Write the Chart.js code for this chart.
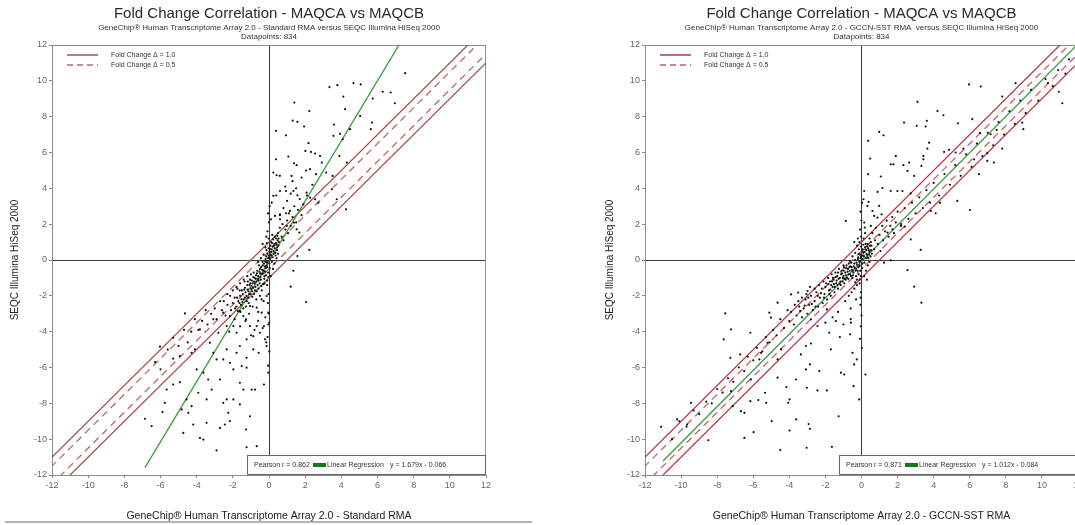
<!DOCTYPE html>
<html>
<head>
<meta charset="utf-8">
<title>Fold Change Correlation - MAQCA vs MAQCB</title>
<script src="https://cdn.jsdelivr.net/npm/chart.js@4.4.1/dist/chart.umd.min.js"></script>
<style>
html, body { margin: 0; padding: 0; background: #fff; overflow: hidden; width: 1075px; height: 525px; }
.panel { position: absolute; top: 0; }
</style>
</head>
<body>
<div class="panel" style="left:0"><canvas id="standardChart" width="540" height="525"></canvas></div>
<div class="panel" style="left:540px"><canvas id="gccnChart" width="545" height="525"></canvas></div>
<script>
// axis range shared by both panels
var axisMin = -12;
var axisMax = 12;
var tickStep = 2;

// fold change guide lines (log2 difference from the diagonal)
var foldSolid = 1.0;
var foldDashed = 0.5;

// Standard RMA vs SEQC: [array log2 FC, seq log2 FC]
var standardPoints = [
    [7.53,10.43],[3.34,9.65],[3.78,9.76],[4.67,9.87],[5.07,9.80],[6.29,9.39],[6.73,9.35],[1.40,8.79],[4.11,9.12],[5.74,9.01],
    [6.96,8.75],[2.23,8.31],[4.21,8.42],[5.04,8.04],[1.31,7.78],[1.57,7.71],[1.94,7.45],[5.70,7.67],[0.39,7.21],[0.94,6.96],
    [3.60,7.56],[3.93,7.04],[3.56,6.93],[4.08,6.74],[4.48,7.30],[5.63,7.30],[2.18,6.52],[2.01,6.09],[2.32,6.03],[2.55,5.94],
    [2.82,5.81],[1.07,5.77],[0.39,5.62],[1.38,5.40],[1.53,5.29],[1.25,4.69],[2.05,4.99],[2.27,5.07],[2.60,4.79],[2.92,5.44],
    [3.89,5.81],[4.30,5.44],[3.16,4.88],[3.52,4.69],[0.24,4.88],[0.42,4.73],[0.61,3.85],[0.94,3.85],[1.35,3.85],[1.57,3.61],
    [2.08,3.76],[2.27,3.48],[2.55,3.39],[2.73,3.20],[1.16,2.74],[0.94,2.61],[0.33,2.46],[0.61,2.27],[0.98,1.90],[1.38,2.09],
    [1.53,1.71],[1.68,1.53],[4.26,2.83],[3.47,3.95],[3.75,3.39],[2.23,0.56],[1.57,0.22],[1.35,-0.60],[1.20,-1.49],[2.05,-2.35],
    [0.61,2.55],[0.15,3.20],[0.24,3.58],[0.11,2.27],
    [-4.65,-2.98],[-5.30,-4.34],[-6.03,-4.84],[-6.86,-8.86],[-6.49,-9.27],[-5.76,-7.97],[-5.89,-8.49],[-4.93,-6.82],[-4.56,-7.78],[-4.83,-8.34],
    [-4.46,-8.53],[-4.28,-8.16],[-3.45,-7.78],[-3.17,-7.23],[-2.90,-5.55],[-2.71,-6.67],[-2.53,-7.97],[-2.34,-7.78],[-2.16,-8.99],[-1.97,-7.78],
    [-1.61,-6.85],[-1.42,-7.23],[-1.24,-6.01],[-1.05,-8.72],[-0.96,-7.23],[-0.77,-7.23],[-0.68,-10.39],[-1.24,-10.45],[-2.90,-10.63],[-3.82,-9.93],
    [-3.63,-10.02],[-4.19,-9.18],[-4.74,-9.65],[-3.45,-9.09],[-2.71,-9.37],[-2.44,-9.18],[-2.25,-8.53],[-1.61,-8.06],[-1.27,-9.46],[-1.79,-5.18],
    [-1.61,-4.80],[-1.24,-4.43],[-0.87,-4.25],[-0.68,-3.69],[-0.50,-4.06],[-0.22,-4.43],[-0.13,-4.80],[-0.04,-6.29],[-0.28,-6.95],[-0.57,-5.18],
    [-0.87,-4.99],[-1.05,-3.69],[-1.27,-3.31],[-1.42,-3.13],[-1.61,-2.85],[-1.05,-2.57],[-0.68,-2.66],[-0.41,-2.20],[-0.13,-2.01],[-0.04,-2.94],
    [0.02,-3.50],[-2.34,-4.99],[-2.16,-5.74],[-2.53,-5.55],[-3.08,-5.18],[-3.27,-4.62],[-2.80,-4.06],[-3.08,-3.31],[-2.53,-2.94],[-3.82,-3.87],
    [-4.10,-4.99],[-4.28,-5.18],[-4.93,-5.36],[-4.00,-6.11],[-3.63,-6.29],[-3.36,-6.67],[-5.30,-6.95],[-5.66,-7.23],[-3.91,-7.41],[-1.97,-6.11],
    [-1.51,-5.92],[-1.24,-5.46],[-0.41,-2.94],[-0.28,-3.69],[-1.97,-3.69],[-1.79,-4.06],[-2.34,-3.69],[-2.16,-3.13],
    [-0.05,0.1],[0.02,-0.2],[-0.1,-0.4],[0.1,0.3],[-0.2,-0.1],[0.15,0.6],[-0.3,-0.6],[0.05,0.45],[-0.15,0.2],[0.25,0.5],
    [-0.35,-0.3],[-0.4,-0.8],[-0.25,-0.9],[0.3,0.9],[0.2,0.15],[-0.05,-0.7],[0.08,0.8],[-0.5,-0.5],[-0.45,-1.1],[0.35,0.4],
    [-0.6,-0.9],[-0.55,-0.3],[-0.7,-1.2],[-0.65,-0.6],[-0.8,-1.0],[-0.75,-1.5],[-0.9,-1.3],[-0.85,-0.7],[-1.0,-1.6],[-1.05,-1.1],
    [-1.1,-1.9],[-1.2,-1.4],[-1.15,-2.1],[-1.3,-1.8],[-1.35,-1.2],[-1.4,-2.2],[-1.5,-1.7],[-1.55,-2.5],[-1.6,-2.0],[-1.7,-2.3],
    [-1.75,-1.6],[-1.8,-2.6],[-1.9,-2.1],[-2.0,-2.4],[-2.1,-2.8],[-2.15,-2.0],[-2.3,-2.5],[-2.4,-3.1],[-2.5,-2.3],[-2.6,-2.8],
    [0.4,1.2],[0.45,0.7],[0.5,1.5],[0.55,1.0],[0.6,1.8],[0.7,1.3],[0.75,2.0],[0.8,1.1],[0.9,1.7],[1.0,2.2],
    [1.05,1.5],[1.1,2.6],[1.2,1.9],[1.3,2.4],[1.4,3.0],[1.5,2.1],[1.6,2.8],[1.7,3.4],[1.8,2.5],[1.9,3.1],
    [-0.02,1.2],[-0.08,1.6],[0.0,2.1],[-0.05,2.6],[0.03,3.0],[-0.1,-1.4],[-0.03,-1.9],[-0.06,-2.4],[0.0,-3.0],[-0.04,-3.6],
    [-0.08,-4.3],[0.02,-5.1],[-0.05,-5.9],[0.12,1.0],[0.18,1.4],[0.1,-0.9],[0.22,-0.5],[0.3,-0.2],[0.42,0.1],[0.5,0.35],
    [-0.3,0.3],[-0.45,0.1],[-0.6,-0.1],[-0.2,0.7],[-0.35,0.9],[-0.15,1.3],[-0.25,-1.3],[-0.4,-1.7],[-0.5,-2.0],[-0.3,-2.3],
    [-0.7,-2.2],[-0.9,-2.6],[-0.6,-2.9],[-1.0,-0.8],[-1.2,-0.9],[-1.4,-1.1],[-1.6,-1.3],[-1.8,-1.5],[-2.0,-1.7],[-2.3,-1.9],
    [-2.7,-2.3],[-2.9,-3.3],[-3.0,-2.7],[-3.2,-3.0],[-3.4,-3.6],[-3.5,-2.8],[-3.7,-3.4],[-3.9,-3.9],[-4.1,-3.3],[-4.3,-4.0],
    [-4.5,-4.6],[-4.7,-3.9],[-5.0,-4.8],[-5.3,-5.5],[-5.6,-5.0],[-6.0,-6.1],[-6.3,-5.7],[-0.2,-3.2],[-0.35,-3.8],[-0.15,-4.6],
    [-0.6,-3.4],[-0.8,-3.9],[-1.1,-3.0],[-1.3,-3.4],[-1.0,-4.2],[-1.6,-3.7],[-1.9,-3.3],[-2.2,-4.0],[0.6,2.5],[0.8,2.9],
    [1.0,3.3],[1.2,3.7],[0.9,4.1],[1.3,4.4],[0.4,3.6],[0.6,4.7],[1.5,4.0],[1.8,4.6],[2.1,3.6],[2.4,4.2],
    [-0.12,-0.15],[-0.18,-0.45],[-0.28,-0.2],[-0.22,-0.65],[-0.38,-0.55],[-0.48,-0.75],[-0.52,-1.3],[-0.62,-1.05],[-0.72,-0.85],[-0.78,-1.3],
    [-0.88,-1.55],[-0.95,-1.15],[-1.02,-1.9],[-1.08,-1.4],[-1.18,-1.65],[-1.25,-2.0],[-1.32,-1.55],[-1.45,-1.9],[-1.52,-2.2],[-1.62,-1.7],
    [0.06,0.05],[0.12,0.25],[0.16,-0.1],[0.2,0.75],[0.26,0.35],[0.32,0.65],[0.38,0.95],[0.44,0.55],[0.48,1.1],[0.52,0.8],
    [-0.08,0.35],[-0.14,0.55],[-0.02,0.65],[-0.12,0.95],[-0.04,-0.95],[-0.1,-1.15],[0.04,-0.45],[-0.16,-0.85],[-0.26,-1.05],[-0.32,-1.35],
    [-0.42,-1.45],[-0.58,-1.6],[-0.68,-1.75],[-0.82,-1.9],[-0.92,-2.05],[-1.12,-2.4],[-1.28,-2.6],[-1.42,-2.7],[-1.58,-2.9],[-1.72,-2.85],
    [-0.02,0.25],[-0.07,-0.05],[0.03,0.15],[-0.13,-0.3],[-0.19,0.05],[-0.24,-0.35],[-0.33,-0.75],[-0.36,-0.1],[-0.43,-0.4],[-0.47,-0.95],
    [-0.53,-0.65],[-0.57,-1.15],[-0.63,-1.4],[-0.67,-0.75],[-0.73,-1.05],[-0.77,-1.7],[-0.83,-1.2],[-0.87,-0.95],[-0.93,-1.75],[-0.97,-1.45],
    [0.07,0.6],[0.13,0.45],[0.17,0.95],[0.23,1.15],[0.27,0.8],[0.33,1.3],[0.37,0.25],[0.43,0.85],[0.47,1.35],[0.53,1.2],
    [-1.03,-1.3],[-1.13,-1.75],[-1.17,-1.2],[-1.23,-2.3],[-1.33,-2.1],[-1.37,-1.65],[-1.47,-2.35],[-1.63,-2.4],[-1.77,-2.1],[-1.87,-2.7]
];
var standardFit = [1.679, -0.066];      // slope, intercept
var standardFitRange = [-6.86, 7.3];
var standardPearson = 0.862;

// GCCN-SST RMA vs SEQC
var gccnPoints = [
    [5.96,9.80],[6.61,9.68],[8.54,9.87],[7.80,9.12],[10.33,9.87],[10.94,9.39],[11.13,8.75],[3.10,8.83],[4.21,8.32],[4.54,8.08],
    [2.36,7.67],[3.06,7.49],[3.62,7.77],[3.56,7.45],[5.35,7.63],[6.14,7.86],[6.57,7.08],[7.16,7.02],[7.49,7.26],[8.91,7.67],
    [8.97,7.30],[7.80,6.22],[7.34,5.44],[6.97,5.53],[0.98,7.15],[1.22,6.96],[0.37,6.65],[3.75,6.55],[3.65,6.22],[3.43,5.81],
    [3.43,5.62],[3.32,5.25],[4.58,6.03],[4.85,6.15],[5.22,6.00],[5.65,6.22],[6.24,5.62],[6.51,4.79],[6.97,5.96],[0.48,5.66],
    [1.62,5.34],[1.77,5.34],[1.90,5.81],[2.32,5.29],[2.64,5.44],[2.55,4.97],[2.92,4.69],[0.37,4.79],[1.07,4.66],[1.16,4.02],
    [0.89,3.80],[1.62,3.85],[1.99,3.85],[2.27,3.85],[2.73,3.72],[0.15,3.85],[0.11,3.39],[0.39,3.24],[0.33,3.02],[0.61,2.74],
    [0.70,2.46],[0.89,2.36],[1.11,2.55],[0.98,3.02],[5.31,3.30],[6.01,2.79],[4.35,3.20],[3.84,2.74],[4.11,2.61],[-0.87,2.18],
    [0.15,2.09],[0.18,1.81],[0.52,1.90],[1.44,1.53],[1.72,1.71],[2.18,1.90],[2.40,1.86],[2.73,1.15],[3.28,0.56],[2.55,-0.56],
    [2.92,-1.49],[3.32,-2.38],[1.62,-0.02],[1.25,-0.15],
    [-7.55,-2.98],[-7.23,-3.87],[-7.64,-4.43],[-7.27,-5.46],[-6.16,-4.06],[-6.72,-5.27],[-5.11,-2.94],[-5.02,-3.22],[-4.65,-2.38],[-3.91,-1.92],
    [-3.51,-1.82],[-2.99,-1.73],[-1.92,-2.76],[-1.42,-3.41],[-0.59,-3.50],[-0.63,-4.15],[-1.79,-4.06],[-2.44,-3.69],[-2.80,-3.31],[-1.70,-4.99],
    [-3.08,-4.80],[-2.80,-4.66],[-3.36,-5.27],[-2.86,-5.83],[-3.08,-6.11],[-2.34,-6.20],[-1.14,-6.29],[-0.96,-6.39],[-0.41,-5.83],[-0.26,-5.55],
    [0.22,-6.39],[-0.50,-5.18],[-0.44,-7.04],[-0.13,-7.78],[-1.27,-8.72],[-1.64,-10.43],[-3.04,-10.48],[-4.50,-10.61],[-3.99,-9.52],[-2.93,-9.16],
    [-2.86,-9.42],[-3.62,-8.90],[-4.06,-7.97],[-3.99,-7.78],[-3.03,-7.13],[-2.44,-7.28],[-1.92,-7.28],[-4.17,-7.09],[-4.65,-6.57],[-5.28,-7.97],
    [-5.72,-7.82],[-6.16,-7.88],[-6.49,-8.53],[-6.68,-8.44],[-5.98,-9.61],[-6.49,-9.93],[-4.98,-8.99],[-8.49,-10.06],[-9.67,-9.18],[-10.22,-8.90],
    [-11.11,-9.31],[-9.45,-7.97],[-7.14,-8.16],[-5.35,-7.41],[-4.65,-5.55],[-4.46,-4.99],[-5.20,-4.62],[-5.57,-5.18],[-5.66,-5.55],[-6.13,-6.67],
    [-7.23,-7.32],[-3.63,-6.67],
    [-0.05,0.1],[0.05,-0.2],[-0.1,-0.3],[0.1,0.4],[-0.2,0.05],[0.2,0.7],[-0.3,-0.5],[0.05,0.5],[-0.15,0.35],[0.3,0.3],
    [-0.4,-0.2],[-0.45,-0.7],[-0.3,-0.9],[0.35,0.9],[0.25,0.1],[-0.05,-0.6],[0.1,0.85],[-0.55,-0.4],[-0.5,-1.0],[0.4,0.55],
    [-0.65,-0.6],[-0.7,-0.2],[-0.8,-1.0],[-0.75,-0.5],[-0.9,-0.7],[-0.95,-1.3],[-1.0,-0.9],[-1.1,-0.6],[-1.15,-1.4],[-1.2,-1.0],
    [-1.3,-1.6],[-1.35,-0.9],[-1.4,-1.3],[-1.5,-1.8],[-1.55,-1.1],[-1.6,-1.5],[-1.7,-2.0],[-1.75,-1.2],[-1.8,-1.7],[-1.9,-2.2],
    [-2.0,-1.5],[-2.05,-1.9],[-2.15,-2.4],[-2.2,-1.6],[-2.3,-2.1],[-2.4,-2.6],[-2.5,-1.8],[-2.6,-2.3],[-2.7,-2.8],[-2.8,-2.0],
    [-2.9,-2.5],[-3.0,-3.0],[-3.1,-2.2],[-3.2,-2.7],[-3.3,-3.2],[-3.45,-2.6],[-3.6,-3.1],[-3.75,-3.6],[-3.9,-2.9],[-4.0,-3.4],
    [0.45,1.2],[0.5,0.2],[0.55,0.8],[0.6,1.5],[0.7,0.6],[0.75,1.1],[0.8,1.8],[0.9,0.9],[1.0,1.4],[1.05,0.5],
    [1.15,1.9],[1.2,1.1],[1.3,1.6],[1.4,2.2],[1.5,1.3],[1.6,1.9],[1.7,2.4],[1.8,1.5],[1.9,2.1],[2.0,2.7],
    [-0.02,1.3],[-0.08,1.7],[0.0,2.2],[-0.05,2.7],[0.03,3.2],[-0.1,-1.3],[-0.03,-1.8],[-0.06,-2.5],[0.0,-3.1],[-0.04,-3.7],
    [-0.08,-4.4],[0.02,-4.9],[-0.05,-2.1],[0.15,-0.9],[0.25,-0.6],[0.35,-0.3],[0.12,1.2],[0.2,1.5],[0.3,-1.1],[0.45,-0.1],
    [-0.35,0.4],[-0.5,0.2],[-0.65,-0.05],[-0.25,0.8],[-0.4,1.0],[-0.2,1.2],[-0.25,-1.4],[-0.4,-1.6],[-0.55,-1.8],[-0.3,-2.2],
    [-0.7,-2.0],[-0.9,-2.3],[-0.6,-2.7],[-1.0,-0.3],[-1.25,-0.5],[-1.45,-0.7],[-1.65,-0.8],[-1.85,-1.0],[-2.1,-1.2],[-2.35,-1.4],
    [-2.6,-1.6],[-2.85,-1.5],[-3.05,-1.9],[-3.3,-2.1],[-3.5,-2.3],[-3.7,-2.5],[-4.1,-2.8],[-4.3,-3.8],[-4.5,-3.3],[-4.7,-4.2],
    [-4.9,-3.9],[-5.1,-4.6],[-5.3,-4.3],[-5.5,-5.1],[-5.8,-4.9],[-6.0,-5.6],[-6.3,-5.4],[-6.5,-6.2],[-6.8,-6.0],[-7.1,-6.8],
    [-7.4,-6.6],[-7.7,-7.4],[-8.0,-7.2],[-8.3,-8.0],[-8.6,-7.9],[-9.0,-8.6],[-9.3,-8.4],[-9.7,-9.3],[-10.1,-9.0],[-10.5,-10.0],
    [2.2,2.0],[2.4,2.9],[2.6,2.3],[2.8,3.2],[3.0,2.6],[3.2,3.5],[3.4,2.9],[3.6,3.9],[3.8,3.2],[4.0,4.3],
    [4.3,3.6],[4.6,4.8],[4.9,4.2],[5.2,5.3],[5.5,4.7],[5.8,5.9],[6.1,5.2],[6.4,6.5],[6.7,5.8],[7.0,7.1],
    [7.3,6.4],[7.6,7.7],[7.9,7.0],[8.2,8.3],[8.5,7.6],[8.8,8.9],[9.1,8.2],[9.4,9.5],[9.8,8.9],[10.2,10.1],
    [10.6,9.7],[10.9,10.6],[11.3,10.4],[11.5,11.2],[-0.6,-3.3],[-1.0,-3.6],[-1.3,-2.9],[-1.6,-3.2],[-2.0,-3.5],[-1.2,-4.3],
    [-0.12,-0.1],[-0.18,-0.4],[-0.28,-0.15],[-0.22,-0.6],[-0.38,-0.45],[-0.48,-0.6],[-0.58,-0.9],[-0.62,-0.35],[-0.72,-0.8],[-0.85,-0.45],
    [-0.88,-1.1],[-0.98,-0.6],[-1.05,-1.2],[-1.08,-0.75],[-1.22,-1.3],[-1.3,-0.7],[-1.38,-1.15],[-1.48,-1.5],[-1.58,-1.0],[-1.68,-1.4],
    [0.06,0.05],[0.12,0.25],[0.16,-0.15],[0.22,0.6],[0.28,0.35],[0.33,0.75],[0.38,0.1],[0.44,0.45],[0.52,1.0],[0.58,0.35],
    [-0.08,0.3],[-0.14,0.6],[-0.02,0.75],[-0.12,1.0],[-0.04,-0.9],[-0.1,-1.1],[0.04,-0.45],[-0.16,-0.8],[-0.26,-1.1],[-0.34,-1.25],
    [-1.78,-1.9],[-1.95,-1.3],[-2.08,-2.1],[-2.25,-1.85],[-2.42,-2.0],[-2.55,-2.6],[-2.75,-2.45],[-2.95,-2.1],[-3.15,-2.55],[-3.4,-2.85],
    [-0.02,0.2],[-0.07,-0.05],[0.03,0.25],[-0.13,-0.35],[-0.19,0.15],[-0.24,-0.25],[-0.33,-0.6],[-0.36,0.0],[-0.43,-0.35],[-0.47,-0.85],
    [-0.53,-0.55],[-0.57,-0.15],[-0.63,-0.8],[-0.67,-0.4],[-0.73,-1.05],[-0.77,-0.65],[-0.83,-0.3],[-0.87,-0.85],[-0.93,-1.05],[-0.97,-0.4],
    [0.07,0.6],[0.13,0.2],[0.17,0.45],[0.23,0.9],[0.27,0.55],[0.33,0.15],[0.37,0.65],[0.43,0.3],[0.47,0.8],[0.53,0.55],
    [-1.03,-1.0],[-1.13,-0.8],[-1.17,-1.2],[-1.27,-1.05],[-1.33,-1.4],[-1.43,-0.95],[-1.53,-1.35],[-1.63,-1.2],[-1.73,-1.65],[-1.83,-1.35]
];
var gccnFit = [1.012, -0.084];
var gccnFitRange = [-11.0, 11.95];
var gccnPearson = 0.871;

var FONT = '"Liberation Sans", Arial, sans-serif';

// titles, keys and plot frame drawn straight onto the canvas
var panelText = {
    id: 'panelText',
    beforeDatasetsDraw: function(chart, args, o) {
        var ctx = chart.ctx, a = chart.chartArea;
        ctx.save();
        ctx.strokeStyle = '#8c8c8c';
        ctx.lineWidth = 1;
        ctx.beginPath();
        ctx.moveTo(a.left, a.top + 0.5);
        ctx.lineTo(a.right, a.top + 0.5);
        ctx.moveTo(a.right - 0.5, a.top);
        ctx.lineTo(a.right - 0.5, a.bottom);
        ctx.stroke();
        ctx.restore();
    },
    afterDatasetsDraw: function(chart, args, o) {
        var ctx = chart.ctx, a = chart.chartArea;
        ctx.save();
        ctx.font = '7px ' + FONT;
        ctx.fillStyle = '#333';
        ctx.textBaseline = 'middle';
        ctx.textAlign = 'left';

        // fold change key, top left
        ctx.strokeStyle = o.solidColor;
        ctx.lineWidth = 1.5;
        ctx.beginPath();
        ctx.moveTo(a.left + 15, 55);
        ctx.lineTo(a.left + 46, 55);
        ctx.stroke();
        ctx.strokeStyle = o.dashColor;
        ctx.setLineDash([6, 4]);
        ctx.beginPath();
        ctx.moveTo(a.left + 15, 65);
        ctx.lineTo(a.left + 46, 65);
        ctx.stroke();
        ctx.setLineDash([]);
        ctx.fillText('Fold Change \u0394 = ' + foldSolid.toFixed(1), a.left + 59, 55);
        ctx.fillText('Fold Change \u0394 = ' + foldDashed.toFixed(1), a.left + 59, 65);

        // regression key, bottom right
        var bx = a.right - 239, by = a.bottom - 20;
        ctx.fillStyle = '#fff';
        ctx.fillRect(bx, by, a.right - bx, a.bottom - by);
        ctx.strokeStyle = '#666';
        ctx.lineWidth = 1;
        ctx.strokeRect(bx + 0.5, by + 0.5, a.right - bx - 1, a.bottom - by - 1);
        var cy = by + 10;
        ctx.fillStyle = '#333';
        ctx.fillText('Pearson r = ' + o.pearson.toFixed(3), bx + 7, cy);
        ctx.fillStyle = '#0a7d0a';
        ctx.fillRect(bx + 66, cy - 2, 13, 4);
        ctx.fillStyle = '#333';
        ctx.fillText('Linear Regression', bx + 80, cy);
        ctx.fillText('y = ' + o.fit[0].toFixed(3) + 'x - ' + Math.abs(o.fit[1]).toFixed(3), bx + 143, cy);
        ctx.restore();
    },
    afterDraw: function(chart, args, o) {
        var ctx = chart.ctx, a = chart.chartArea;
        var cx = (a.left + a.right) / 2;
        ctx.save();
        ctx.textAlign = 'center';
        ctx.textBaseline = 'middle';
        ctx.fillStyle = '#2a2a2a';
        ctx.font = '15px ' + FONT;
        ctx.fillText('Fold Change Correlation - MAQCA vs MAQCB', cx, 14);
        ctx.font = '8px ' + FONT;
        ctx.fillStyle = '#333';
        ctx.fillText(o.subtitle, cx, 28);
        ctx.fillText('Datapoints: ' + o.count, cx, 37);
        if (o.rule) {
            ctx.strokeStyle = '#9a9a9a';
            ctx.lineWidth = 1.5;
            ctx.beginPath();
            ctx.moveTo(5, 522);
            ctx.lineTo(532, 522);
            ctx.stroke();
        }
        ctx.restore();
    }
};

function guideLine(offset, color, dashed) {
    return {
        data: [{ x: axisMin - 1, y: axisMin - 1 + offset }, { x: axisMax + 1, y: axisMax + 1 + offset }],
        showLine: true,
        borderColor: color,
        borderWidth: 1.3,
        borderDash: dashed ? [7, 5] : [],
        pointRadius: 0
    };
}

function buildChart(id, cfg) {
    var w = document.getElementById(id).width;
    var f = cfg.fit;
    var scatter = cfg.points.map(function(p) { return { x: p[0], y: p[1] }; });
    var fitLine = cfg.fitRange.map(function(x) { return { x: x, y: f[0] * x + f[1] }; });

    var zeroGrid = function(c) {
        return c.tick && c.tick.value === 0 ? '#3a3a3a' : 'rgba(0,0,0,0)';
    };
    var tickFont = { family: FONT, size: 9 };

    return new Chart(document.getElementById(id), {
        type: 'scatter',
        data: {
            datasets: [
                {
                    data: scatter,
                    pointRadius: 1.1,
                    pointBackgroundColor: '#111',
                    pointBorderWidth: 0
                },
                {
                    data: fitLine,
                    showLine: true,
                    borderColor: '#3d9a3d',
                    borderWidth: 1.3,
                    pointRadius: 0
                },
                guideLine(foldSolid, cfg.solidColor, false),
                guideLine(-foldSolid, cfg.solidColor, false),
                guideLine(foldDashed, cfg.dashColor, true),
                guideLine(-foldDashed, cfg.dashColor, true)
            ]
        },
        options: {
            responsive: false,
            animation: false,
            events: [],
            layout: { padding: { top: 45, left: 0, right: w - cfg.plotRight, bottom: 0 } },
            plugins: {
                legend: { display: false },
                tooltip: { enabled: false },
                panelText: {
                    subtitle: cfg.subtitle,
                    count: 834,
                    pearson: cfg.pearson,
                    fit: f,
                    solidColor: cfg.solidColor,
                    dashColor: cfg.dashColor,
                    rule: cfg.rule
                }
            },
            scales: {
                x: {
                    type: 'linear',
                    min: axisMin,
                    max: axisMax,
                    afterFit: function(s) { s.height = 50; },
                    ticks: { stepSize: tickStep, color: '#666', font: tickFont, padding: 2, maxRotation: 0 },
                    grid: { color: zeroGrid, tickColor: '#888', tickLength: 3, lineWidth: 1 },
                    border: { color: '#8c8c8c' },
                    title: {
                        display: true,
                        text: cfg.xTitle,
                        color: '#222',
                        font: { family: FONT, size: 10.5 },
                        padding: { top: 0, bottom: 3 }
                    }
                },
                y: {
                    type: 'linear',
                    min: axisMin,
                    max: axisMax,
                    afterFit: function(s) { s.width = cfg.plotLeft; },
                    ticks: { stepSize: tickStep, color: '#666', font: tickFont, padding: 2 },
                    grid: { color: zeroGrid, tickColor: '#888', tickLength: 3, lineWidth: 1 },
                    border: { color: '#8c8c8c' },
                    title: {
                        display: true,
                        text: 'SEQC Illumina HiSeq 2000',
                        color: '#222',
                        font: { family: FONT, size: 10 },
                        padding: { top: cfg.yTitleInset, bottom: 0 }
                    }
                }
            }
        },
        plugins: [panelText]
    });
}

buildChart('standardChart', {
    points: standardPoints,
    fit: standardFit,
    fitRange: standardFitRange,
    pearson: standardPearson,
    plotLeft: 52,
    plotRight: 486,
    yTitleInset: 9,
    solidColor: '#a4504f',
    dashColor: '#b46a6a',
    subtitle: 'GeneChip\u00ae Human Transcriptome Array 2.0 - Standard RMA versus SEQC Illumina HiSeq 2000',
    xTitle: 'GeneChip\u00ae Human Transcriptome Array 2.0 - Standard RMA',
    rule: true
});

buildChart('gccnChart', {
    points: gccnPoints,
    fit: gccnFit,
    fitRange: gccnFitRange,
    pearson: gccnPearson,
    plotLeft: 105,
    plotRight: 539,
    yTitleInset: 64,
    solidColor: '#b33a46',
    dashColor: '#c06070',
    subtitle: 'GeneChip\u00ae Human Transcriptome Array 2.0 - GCCN-SST RMA  versus SEQC Illumina HiSeq 2000',
    xTitle: 'GeneChip\u00ae Human Transcriptome Array 2.0 - GCCN-SST RMA',
    rule: false
});
</script>
</body>
</html>
